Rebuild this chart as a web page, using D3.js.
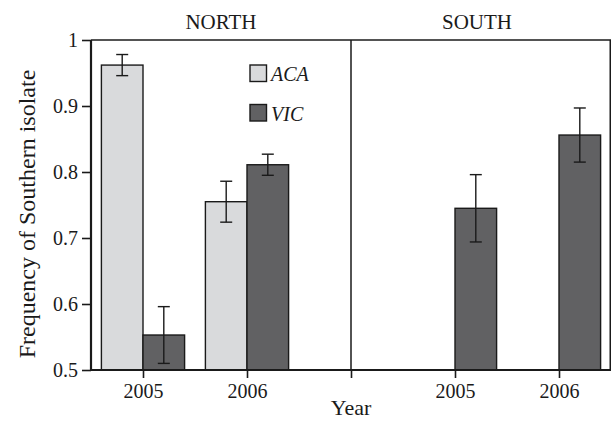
<!DOCTYPE html>
<html>
<head>
<meta charset="utf-8">
<script src="https://cdn.jsdelivr.net/npm/d3@7"></script>
<style>
  html, body { margin: 0; padding: 0; background: #fff; }
  svg { display: block; }
  text { font-family: "Liberation Serif", "Times New Roman", serif; fill: #1a1a1a; }
</style>
</head>
<body>
<svg id="chart" width="611" height="421"></svg>
<script>
// Panels (regions) and the years shown in each
const regions = ["NORTH", "SOUTH"];
const years = ["2005", "2006"];

// Mean frequency of the southern isolate, per region × year (null = not sampled)
const acaValues = [0.962, 0.755, null, null];
const acaErrors = [0.016, 0.031, null, null];
const vicValues = [0.553, 0.811, 0.745, 0.856];
const vicErrors = [0.043, 0.016, 0.051, 0.041];

const yTicks = [0.5, 0.6, 0.7, 0.8, 0.9, 1];
const seriesNames = ["ACA", "VIC"];
const colors = { ACA: "#d9dadc", VIC: "#616163" };

const svg = d3.select("#chart");
const W = 611, H = 421;
const margin = { left: 91, right: 0, top: 40, bottom: 51 };
const plotL = margin.left, plotR = W - margin.right;
const plotT = margin.top, plotB = H - margin.bottom;

// Tick slots: 2005, 2006, divider, 2005, 2006
const x = d3.scaleLinear().domain([0.5, 5.5]).range([plotL, plotR]);
const y = d3.scaleLinear().domain([0.5, 1]).range([plotB, plotT]);
const barW = x(1.4) - x(1);

// Slot index for each region/year cell
const cells = [];
regions.forEach((r, ri) => years.forEach((yr, yi) => {
  cells.push({ region: r, year: yr, slot: 1 + ri * 3 + yi });
}));

const bars = [];
cells.forEach((c, i) => {
  if (acaValues[i] != null) bars.push({ series: "ACA", slot: c.slot, v: acaValues[i], e: acaErrors[i], off: -1 });
  if (vicValues[i] != null) bars.push({ series: "VIC", slot: c.slot, v: vicValues[i], e: vicErrors[i], off: 0 });
});

const ink = "#1a1a1a";

// Bars
svg.append("g").selectAll("rect").data(bars).join("rect")
  .attr("x", d => x(d.slot) + d.off * barW)
  .attr("y", d => y(d.v))
  .attr("width", barW)
  .attr("height", d => y(0.5) - y(d.v))
  .attr("fill", d => colors[d.series])
  .attr("stroke", ink)
  .attr("stroke-width", 1.4);

// Error bars
const eg = svg.append("g").attr("stroke", ink).attr("stroke-width", 1.4);
bars.forEach(d => {
  const cx = x(d.slot) + d.off * barW + barW / 2;
  eg.append("line").attr("x1", cx).attr("x2", cx).attr("y1", y(d.v + d.e)).attr("y2", y(d.v - d.e));
  [d.v + d.e, d.v - d.e].forEach(val => {
    eg.append("line").attr("x1", cx - 6).attr("x2", cx + 6).attr("y1", y(val)).attr("y2", y(val));
  });
});

// Frame: top line, panel divider, right edge
svg.append("line").attr("x1", plotL).attr("x2", plotR).attr("y1", plotT).attr("y2", plotT)
  .attr("stroke", ink).attr("stroke-width", 1.5);
svg.append("line").attr("x1", x(3)).attr("x2", x(3)).attr("y1", plotT).attr("y2", plotB)
  .attr("stroke", ink).attr("stroke-width", 1.5);
svg.append("line").attr("x1", plotR - 0.75).attr("x2", plotR - 0.75).attr("y1", plotT).attr("y2", plotB)
  .attr("stroke", ink).attr("stroke-width", 1.5);

// Y axis
const yAxis = svg.append("g").attr("transform", `translate(${plotL},0)`)
  .call(d3.axisLeft(y).tickValues(yTicks).tickFormat(d => d === 1 ? "1" : d3.format(".1f")(d)).tickSize(9).tickPadding(4));
yAxis.select(".domain").attr("stroke", ink).attr("stroke-width", 2.2).attr("d", `M0,${plotT}V${plotB}`);
yAxis.selectAll(".tick line").attr("stroke", ink).attr("stroke-width", 1.6);
yAxis.selectAll(".tick text").attr("font-size", 20).attr("fill", ink)
  .attr("font-family", "Liberation Serif, serif");

// X axis
const xLabels = { 1: "2005", 2: "2006", 3: "", 4: "2005", 5: "2006" };
const xAxis = svg.append("g").attr("transform", `translate(0,${plotB})`)
  .call(d3.axisBottom(x).tickValues([1, 2, 3, 4, 5]).tickFormat(d => xLabels[d]).tickSize(8).tickPadding(6));
xAxis.select(".domain").attr("stroke", ink).attr("stroke-width", 2.2).attr("d", `M${plotL},0H${plotR}`);
xAxis.selectAll(".tick line").attr("stroke", ink).attr("stroke-width", 1.6);
xAxis.selectAll(".tick text").attr("font-size", 20).attr("fill", ink)
  .attr("font-family", "Liberation Serif, serif");

// Panel titles
regions.forEach((r, ri) => {
  svg.append("text")
    .attr("x", (x(0.5 + ri * 2.5) + x(3 + ri * 2.5)) / 2 - ri * 4)
    .attr("y", 29)
    .attr("text-anchor", "middle")
    .attr("font-size", 21)
    .text(r);
});

// Axis titles
svg.append("text")
  .attr("x", x(3)).attr("y", 415)
  .attr("text-anchor", "middle").attr("font-size", 22)
  .text("Year");
svg.append("text")
  .attr("transform", "translate(35,214) rotate(-90)")
  .attr("text-anchor", "middle").attr("font-size", 24)
  .text("Frequency of Southern isolate");

// Legend
const lg = svg.append("g").attr("transform", "translate(250,65)");
seriesNames.forEach((s, i) => {
  const row = lg.append("g").attr("transform", `translate(0,${i * 39.5})`);
  row.append("rect").attr("width", 16.5).attr("height", 16.5)
    .attr("fill", colors[s]).attr("stroke", ink).attr("stroke-width", 1.4);
  row.append("text").attr("x", 21).attr("y", 16)
    .attr("font-size", 20).attr("font-style", "italic").text(s);
});
</script>
</body>
</html>
